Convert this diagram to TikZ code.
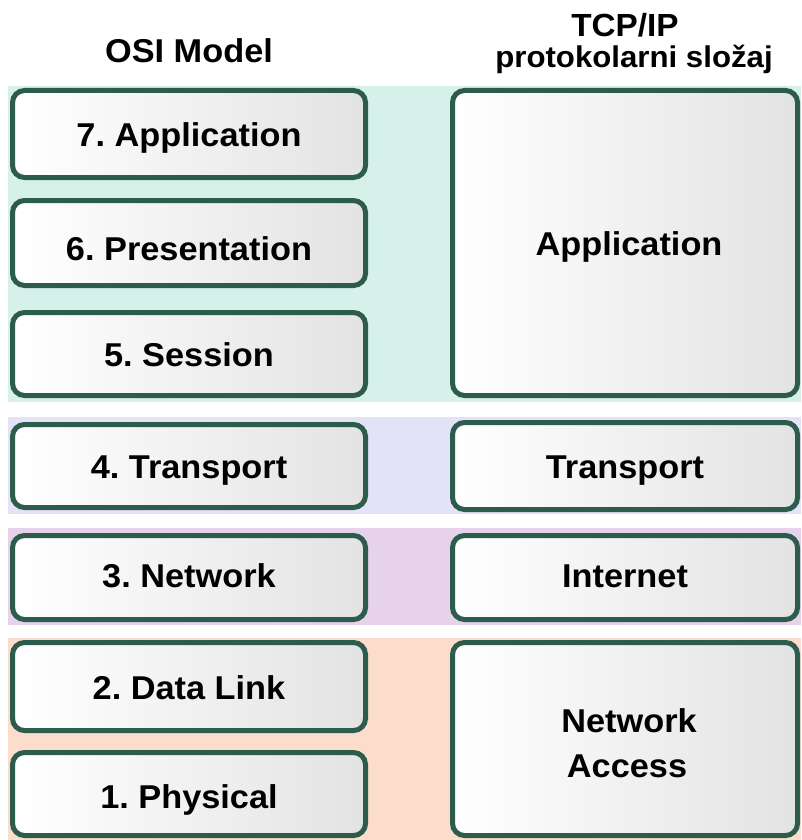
\documentclass[tikz,border=0pt]{standalone}
\usepackage{fontspec}
\setmainfont{Liberation Sans}[FakeStretch=1.04]
\definecolor{border}{HTML}{2D5B4C}
\definecolor{bandA}{HTML}{D6F1EA}
\definecolor{bandB}{HTML}{E3E3F7}
\definecolor{bandC}{HTML}{E6D2EA}
\definecolor{bandD}{HTML}{FCDDCC}
\frenchspacing
\begin{document}
\begin{tikzpicture}[x=1pt,y=-1pt,
  layerbox/.style={draw=border, line width=5pt, rounded corners=12pt,
    left color=white, right color=gray!22, minimum width=353pt, inner sep=0pt},
  rightbox/.style={layerbox, minimum width=345pt},
  lbl/.style={font=\fontsize{33}{40}\selectfont\bfseries, inner sep=0pt,
    text height=23.6pt, text depth=0pt},
  title/.style={inner sep=0pt, anchor=base}]
\useasboundingbox (0,0) rectangle (801,840);
% bands
\fill[bandA] (8,86) rectangle (801,402);
\fill[bandB] (8,417) rectangle (801,514);
\fill[bandC] (8,528) rectangle (801,625);
\fill[bandD] (8,638) rectangle (801,840);
% titles
\node[title, font=\fontsize{33}{36}\selectfont\bfseries] (osi) at (189,63) {OSI Model};
\node[title, font=\fontsize{32}{34}\selectfont\bfseries] (tcp) at (625,37) {TCP/IP};
\node[title, font=\fontsize{30}{32}\selectfont\bfseries] (tcpsub) at (634,68) {protokolarni složaj};
% OSI layers
\node[layerbox, minimum height=87pt] (l7) at (189,134) {};
\node[layerbox, minimum height=85pt] (l6) at (189,243) {};
\node[layerbox, minimum height=83pt] (l5) at (189,354) {};
\node[layerbox, minimum height=83pt] (l4) at (189,466) {};
\node[layerbox, minimum height=84pt] (l3) at (189,577.5) {};
\node[layerbox, minimum height=88pt] (l2) at (189,686.5) {};
\node[layerbox, minimum height=83pt] (l1) at (189,794) {};
\node[lbl] (t7) at (189,135) {7. Application};
\node[lbl] (t6) at (189,248.5) {6. Presentation};
\node[lbl] (t5) at (189,355) {5. Session};
\node[lbl] (t4) at (189,466.5) {4. Transport};
\node[lbl] (t3) at (189,576) {3. Network};
\node[lbl] (t2) at (189,688) {2. Data Link};
\node[lbl] (t1) at (189,797) {1. Physical};
% TCP/IP layers
\node[rightbox, minimum height=305pt] (tapp) at (625,243) {};
\node[rightbox, minimum height=87pt] (ttr) at (625,466) {};
\node[rightbox, minimum height=84pt] (tint) at (625,577.5) {};
\node[rightbox, minimum height=193pt] (tna) at (625,739) {};
\node[lbl] (ta) at (629,244) {Application};
\node[lbl] (tt) at (625,467) {Transport};
\node[lbl] (ti) at (625,576) {Internet};
\node[lbl] (tn1) at (629,721) {Network};
\node[lbl] (tn2) at (627,766) {Access};
\end{tikzpicture}
\end{document}
